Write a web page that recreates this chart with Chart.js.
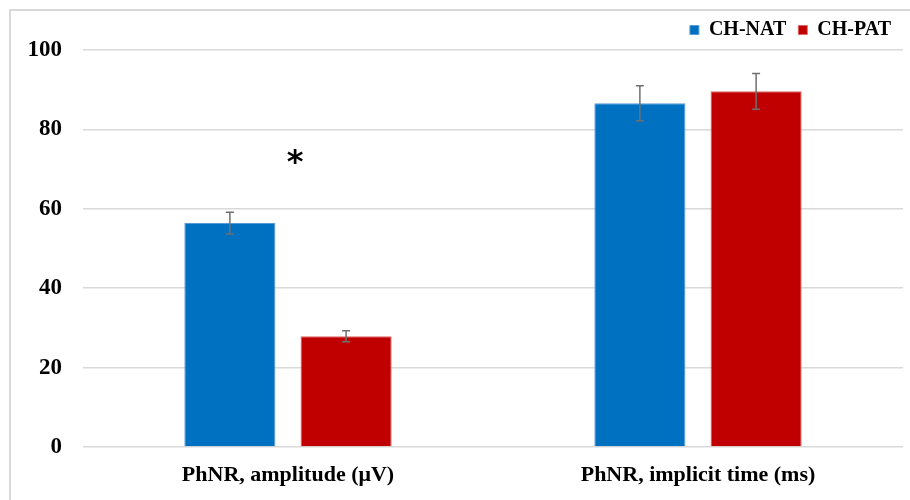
<!DOCTYPE html>
<html>
<head>
<meta charset="utf-8">
<script src="https://cdn.jsdelivr.net/npm/chart.js@4"></script>
<style>
  body { margin: 0; background: #fff; }
  #wrap { width: 910px; height: 500px; position: relative; }
</style>
</head>
<body>
<div id="wrap"><canvas id="grafico" width="910" height="500"></canvas></div>
<script>
var categorias = ["PhNR, amplitude (\u03bcV)", "PhNR, implicit time (ms)"];
var natValores = [56.4, 86.6];
var natErros = [2.75, 4.4];
var patValores = [27.9, 89.6];
var patErros = [1.4, 4.5];
var marcas = ["*", ""];
var marcaNivel = [72, 0];
var yTicks = [0, 20, 40, 60, 80, 100];

var fonte = "'Liberation Serif', 'Times New Roman', serif";

// moldura cinza e barras de erro
var extras = {
    id: "extras",
    beforeDraw: function (chart) {
        var ctx = chart.ctx;
        ctx.save();
        ctx.strokeStyle = "#d9d9d9";
        ctx.lineWidth = 2;
        ctx.strokeRect(10, 10, 1000, 1000);
        ctx.restore();
    },
    afterDatasetsDraw: function (chart) {
        var ctx = chart.ctx;
        var y = chart.scales.y;
        var erros = [natErros, patErros];
        ctx.save();
        ctx.strokeStyle = "#6f6f6f";
        ctx.lineWidth = 1.5;
        chart.data.datasets.forEach(function (ds, d) {
            var meta = chart.getDatasetMeta(d);
            meta.data.forEach(function (bar, i) {
                var topo = y.getPixelForValue(ds.data[i] + erros[d][i]);
                var base = y.getPixelForValue(ds.data[i] - erros[d][i]);
                ctx.beginPath();
                ctx.moveTo(bar.x, topo);
                ctx.lineTo(bar.x, base);
                ctx.moveTo(bar.x - 4, topo);
                ctx.lineTo(bar.x + 4, topo);
                ctx.moveTo(bar.x - 4, base);
                ctx.lineTo(bar.x + 4, base);
                ctx.stroke();
            });
        });
        // asterisco
        ctx.fillStyle = "#000";
        ctx.font = "bold 32px 'DejaVu Sans', sans-serif";
        ctx.textAlign = "center";
        ctx.textBaseline = "middle";
        marcas.forEach(function (m, i) {
            if (!m) return;
            ctx.fillText(m, chart.scales.x.getPixelForValue(i) + 7, y.getPixelForValue(marcaNivel[i]) + 3);
        });
        ctx.restore();
    }
};

new Chart(document.getElementById("grafico"), {
    type: "bar",
    data: {
        labels: categorias,
        datasets: [{
            label: "CH-NAT",
            data: natValores,
            backgroundColor: "#0070c0",
            borderColor: "#5b9bd5",
            borderWidth: 1,
            barPercentage: 0.784,
            categoryPercentage: 0.567
        }, {
            label: "CH-PAT",
            data: patValores,
            backgroundColor: "#c00000",
            borderColor: "#e06666",
            borderWidth: 1,
            barPercentage: 0.784,
            categoryPercentage: 0.567
        }]
    },
    options: {
        responsive: false,
        animation: false,
        devicePixelRatio: 1,
        layout: { padding: { top: 8, right: 7, bottom: 0, left: 0 } },
        plugins: {
            legend: {
                position: "top",
                align: "end",
                labels: {
                    boxWidth: 9,
                    boxHeight: 9,
                    padding: 12,
                    color: "#000",
                    font: { family: fonte, size: 20, weight: "bold" }
                }
            },
            tooltip: { enabled: false }
        },
        scales: {
            x: {
                grid: { display: false, drawTicks: false },
                border: { display: false },
                ticks: {
                    color: "#000",
                    padding: 15,
                    maxRotation: 0,
                    font: { family: fonte, size: 22, weight: "bold" }
                },
                afterFit: function (s) { s.height = 53; }
            },
            y: {
                min: 0,
                max: 100,
                afterBuildTicks: function (s) {
                    s.ticks = yTicks.map(function (v) { return { value: v }; });
                },
                grid: { color: "#d9d9d9", lineWidth: 1.5, drawTicks: false },
                border: { display: false },
                ticks: {
                    color: "#000",
                    padding: 21,
                    font: { family: fonte, size: 23, weight: "bold" }
                },
                afterFit: function (s) { s.width = 83; }
            }
        }
    },
    plugins: [extras]
});
</script>
</body>
</html>
